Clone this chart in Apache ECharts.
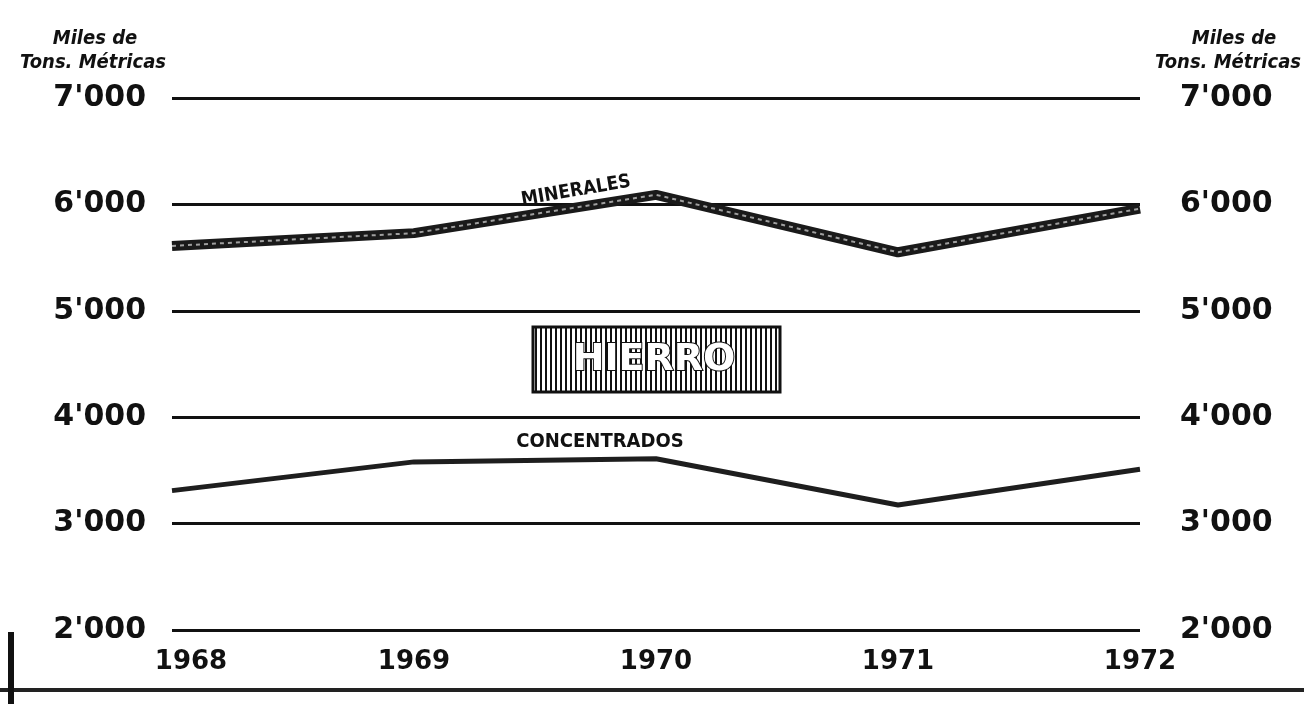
<!DOCTYPE html>
<html>
<head>
<meta charset="utf-8">
<script src="https://cdn.jsdelivr.net/npm/echarts@6/dist/echarts.min.js"></script>
<style>
html,body{margin:0;padding:0;background:#fff;}
#c{width:1304px;height:704px;}
</style>
</head>
<body>
<div id="c"></div>
<script>
var years = ['1968', '1969', '1970', '1971', '1972'];
var minerales = [5610, 5730, 6090, 5550, 5960];
var concentrados = [3310, 3580, 3610, 3175, 3510];
var yTicks = [2000, 3000, 4000, 5000, 6000, 7000];

function fmt(v) {
  var s = String(v);
  return s.slice(0, s.length - 3) + "'" + s.slice(s.length - 3);
}

var pc = document.createElement('canvas');
pc.width = 5; pc.height = 5;
var pctx = pc.getContext('2d');
pctx.fillStyle = '#fff'; pctx.fillRect(0, 0, 5, 5);
pctx.fillStyle = '#111'; pctx.fillRect(0, 0, 2, 5);

var chart = echarts.init(document.getElementById('c'));
var numFont = '"DejaVu Sans", sans-serif';
var condFont = '"DejaVu Sans Condensed", "DejaVu Sans", sans-serif';

chart.setOption({
  backgroundColor: '#fff',
  animation: false,
  grid: { left: 172, right: 164, top: 98, bottom: 74 },
  xAxis: {
    type: 'category',
    data: years,
    boundaryGap: false,
    axisLine: { show: false },
    axisTick: { show: false },
    axisLabel: {
      color: '#111', fontSize: 26, fontWeight: 'bold', fontFamily: numFont, margin: 19,
      formatter: function (v, i) { return i === 0 ? '{f|' + v + '}' : v; },
      rich: { f: { color: '#111', fontSize: 26, fontWeight: 'bold', fontFamily: numFont, padding: [0, 0, 0, 38] } }
    }
  },
  yAxis: [{
    type: 'value', min: 2000, max: 7000, interval: 1000, position: 'left',
    axisLine: { show: false }, axisTick: { show: false },
    splitLine: { show: true, lineStyle: { color: '#111', width: 3 } },
    axisLabel: { color: '#111', fontSize: 30, fontWeight: 'bold', fontFamily: numFont, margin: 26, formatter: fmt }
  }, {
    type: 'value', min: 2000, max: 7000, interval: 1000, position: 'right',
    axisLine: { show: false }, axisTick: { show: false }, splitLine: { show: false },
    axisLabel: { color: '#111', fontSize: 30, fontWeight: 'bold', fontFamily: numFont, margin: 40, formatter: fmt }
  }],
  series: [{
    name: 'MINERALES', type: 'line', data: minerales, symbol: 'none',
    lineStyle: { color: '#1a1a1a', width: 10 }, z: 3
  }, {
    name: 'MINERALES textura', type: 'line', data: minerales, symbol: 'none',
    lineStyle: { color: '#a0a0a0', width: 2, type: [4, 4] }, z: 4
  }, {
    name: 'CONCENTRADOS', type: 'line', data: concentrados, symbol: 'none',
    lineStyle: { color: '#1e1e1e', width: 5 }, z: 3
  }],
  graphic: [
    { type: 'text', x: 95, y: 39, style: { text: 'Miles de', font: 'italic bold 20px ' + condFont, fill: '#111', align: 'center', verticalAlign: 'middle' } },
    { type: 'text', x: 93, y: 63, style: { text: 'Tons. Métricas', font: 'italic bold 20px ' + condFont, fill: '#111', align: 'center', verticalAlign: 'middle' } },
    { type: 'text', x: 1234, y: 39, style: { text: 'Miles de', font: 'italic bold 20px ' + condFont, fill: '#111', align: 'center', verticalAlign: 'middle' } },
    { type: 'text', x: 1228, y: 63, style: { text: 'Tons. Métricas', font: 'italic bold 20px ' + condFont, fill: '#111', align: 'center', verticalAlign: 'middle' } },
    { type: 'rect', shape: { x: 533, y: 327, width: 247, height: 65 },
      style: { fill: { image: pc, repeat: 'repeat' }, stroke: '#111', lineWidth: 3 }, z: 10 },
    { type: 'text', x: 654, y: 360, z: 11,
      style: { text: 'HIERRO', font: 'bold 38px ' + numFont, fill: '#fff', stroke: '#111', lineWidth: 2, align: 'center', verticalAlign: 'middle' } },
    { type: 'text', x: 576, y: 191, rotation: 0.17, z: 11,
      style: { text: 'MINERALES', font: 'bold 19px ' + condFont, fill: '#111', align: 'center', verticalAlign: 'middle' } },
    { type: 'text', x: 600, y: 442, z: 11,
      style: { text: 'CONCENTRADOS', font: 'bold 20px ' + condFont, fill: '#111', align: 'center', verticalAlign: 'middle' } },
    { type: 'rect', shape: { x: 0, y: 688, width: 1304, height: 4 }, style: { fill: '#222' } },
    { type: 'rect', shape: { x: 8, y: 632, width: 6, height: 72 }, style: { fill: '#111' } }
  ]
});
</script>
</body>
</html>
